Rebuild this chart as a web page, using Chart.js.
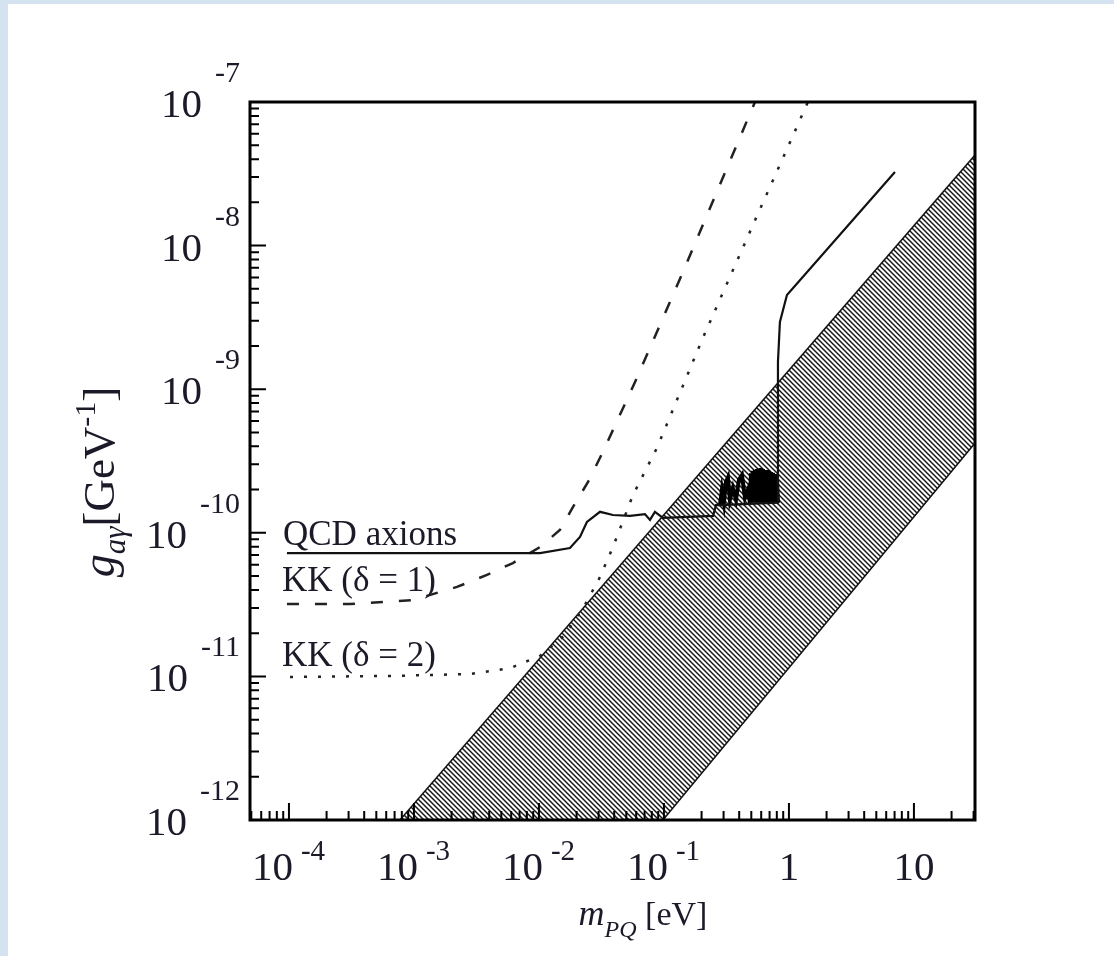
<!DOCTYPE html>
<html>
<head>
<meta charset="utf-8">
<script src="https://cdn.jsdelivr.net/npm/chart.js@4/dist/chart.umd.min.js"></script>
<style>
  body { margin: 0; background: #d5e3f1; width: 1114px; height: 956px; overflow: hidden; }
  #panel { position: absolute; left: 8px; top: 4px; width: 1106px; height: 952px; background: #fff; }
</style>
</head>
<body>
<div id="panel"><canvas id="grafica" width="1106" height="952"></canvas></div>
<script>
// Curva QCD (masa en eV, acople en GeV^-1)
const qcdMasa = [9.64e-5, 0.0102, 0.0177, 0.0213, 0.0242, 0.0308, 0.0391, 0.0535, 0.0705, 0.0773, 0.0847, 0.0982, 0.247, 0.261,
  0.281, 0.817, 0.817, 0.847, 0.964, 7.05];
const qcdAcople = [7.23e-11, 7.23e-11, 7.83e-11, 9.35e-11, 1.19e-10, 1.40e-10, 1.33e-10, 1.31e-10, 1.35e-10, 1.23e-10, 1.40e-10, 1.27e-10, 1.31e-10, 1.56e-10,
  1.56e-10, 1.62e-10, 1.55e-9, 2.94e-9, 4.53e-9, 3.26e-8];

// Zona de oscilaciones de la curva QCD
const oscMasa = [0.281, 0.291, 0.302, 0.313, 0.325, 0.337, 0.356, 0.377, 0.398, 0.421, 0.445, 0.470, 0.488, 0.497, 0.506, 0.515, 0.525,
  0.535, 0.545, 0.555, 0.565, 0.575, 0.586, 0.597, 0.608, 0.620, 0.631, 0.643, 0.655, 0.667, 0.679, 0.692, 0.705, 0.718, 0.731,
  0.745, 0.759, 0.773, 0.787, 0.802, 0.817];
const oscAcople = [1.56e-10, 1.99e-10, 1.62e-10, 2.26e-10, 2.43e-10, 1.70e-10, 2.05e-10, 1.70e-10, 2.33e-10, 2.52e-10, 1.75e-10, 1.99e-10, 1.62e-10, 2.60e-10, 1.65e-10, 2.70e-10, 1.62e-10,
  2.74e-10, 1.64e-10, 2.78e-10, 1.62e-10, 2.80e-10, 1.62e-10, 2.82e-10, 1.62e-10, 2.78e-10, 1.64e-10, 2.74e-10, 1.62e-10, 2.74e-10, 1.62e-10, 2.70e-10, 1.62e-10, 2.65e-10, 1.64e-10,
  2.62e-10, 1.62e-10, 2.56e-10, 1.62e-10, 2.40e-10, 1.62e-10];

// KK (delta = 1), discontinua
const kk1Masa = [9.64e-5, 3.08e-4, 9.82e-4, 2.21e-3, 3.84e-3, 6.19e-3, 0.0102, 0.0147, 0.0187, 0.0247, 0.0325, 0.0608, 0.142, 0.319, 0.535];
const kk1Acople = [3.19e-11, 3.19e-11, 3.40e-11, 4.20e-11, 5.09e-11, 6.16e-11, 7.96e-11, 1.045e-10, 1.51e-10, 2.26e-10, 3.66e-10, 1.20e-9, 6.55e-9, 3.47e-8, 1.0e-7];

// KK (delta = 2), punteada
const kk2Masa = [1.02e-4, 7.73e-4, 2.81e-3, 5.86e-3, 0.0102, 0.0161, 0.0233, 0.0308, 0.0391, 0.0565, 0.0879, 0.205, 0.515, 1.42];
const kk2Acople = [9.9e-12, 1.01e-11, 1.04e-11, 1.14e-11, 1.39e-11, 1.94e-11, 3.14e-11, 4.92e-11, 7.96e-11, 1.83e-10, 3.90e-10, 2.28e-9, 1.39e-8, 1.0e-7];

// Banda rayada
const bandaSupMasa = [7.73e-4, 30.8];
const bandaSupAcople = [1e-12, 4.27e-8];
const bandaInfMasa = [7.73e-4, 0.0982, 30.8];
const bandaInfAcople = [1e-12, 1e-12, 4.22e-10];

// Etiquetas de los ejes
const xTickValores = [1e-4, 1e-3, 1e-2, 1e-1, 1, 10];
const xTickBase = ['10', '10', '10', '10', '1', '10'];
const xTickExp = ['-4', '-3', '-2', '-1', '', ''];
const yTickValores = [1e-7, 1e-8, 1e-9, 1e-10, 1e-11, 1e-12];
const yTickExp = ['-7', '-8', '-9', '-10', '-11', '-12'];
const etiquetas = ['QCD axions', 'KK (\u03b4 = 1)', 'KK (\u03b4 = 2)'];

function puntos(xs, ys) {
    return xs.map((v, i) => ({x: v, y: ys[i]}));
}

// Trama de lineas diagonales para la banda
function crearTrama() {
    const c = document.createElement('canvas');
    c.width = 5;
    c.height = 5;
    const g = c.getContext('2d');
    g.strokeStyle = '#151515';
    g.lineWidth = 1.45;
    g.beginPath();
    g.moveTo(-1, -1); g.lineTo(6, 6);
    g.moveTo(-1, 4); g.lineTo(1, 6);
    g.moveTo(4, -1); g.lineTo(6, 1);
    g.stroke();
    return g.createPattern(c, 'repeat');
}

const SERIF = '"Liberation Serif", "Times New Roman", serif';
const TINTA = '#1c1a28';

// Marcas hacia dentro, marco, etiquetas y titulos
const decoracion = {
    id: 'decoracion',
    afterDatasetsDraw(chart) {
        const {ctx, chartArea: a} = chart;
        const x = chart.scales.x, y = chart.scales.y;
        ctx.save();
        ctx.strokeStyle = '#000';
        ctx.lineWidth = 2;
        ctx.beginPath();
        for (let e = -5; e <= 1; e++) {
            for (let k = 1; k <= 9; k++) {
                const v = k * Math.pow(10, e);
                if (v < x.min || v > x.max) continue;
                const px = x.getPixelForValue(v);
                ctx.moveTo(px, a.bottom);
                ctx.lineTo(px, a.bottom - (k === 1 ? 17 : 9));
            }
        }
        for (let e = -12; e <= -8; e++) {
            for (let k = 1; k <= 9; k++) {
                const v = k * Math.pow(10, e);
                const py = y.getPixelForValue(v);
                ctx.moveTo(a.left, py);
                ctx.lineTo(a.left + (k === 1 ? 16 : 9), py);
            }
        }
        ctx.stroke();
        ctx.lineWidth = 3;
        ctx.strokeRect(a.left, a.top, a.right - a.left, a.bottom - a.top);

        ctx.fillStyle = TINTA;
        ctx.textBaseline = 'alphabetic';
        // eje y
        yTickValores.forEach((v, i) => {
            const py = y.getPixelForValue(v);
            ctx.font = '30px ' + SERIF;
            ctx.textAlign = 'right';
            const expRight = a.left - 10;
            ctx.fillText(yTickExp[i], expRight, py - 20);
            const w = ctx.measureText(yTickExp[i]).width;
            ctx.font = '41px ' + SERIF;
            ctx.fillText('10', expRight - w - 13, py + 15);
        });
        // eje x
        xTickValores.forEach((v, i) => {
            const px = x.getPixelForValue(v);
            ctx.font = '41px ' + SERIF;
            if (xTickExp[i]) {
                ctx.textAlign = 'right';
                ctx.fillText(xTickBase[i], px + 4, a.bottom + 60);
                ctx.font = '29px ' + SERIF;
                ctx.textAlign = 'left';
                ctx.fillText(xTickExp[i], px + 12, a.bottom + 40);
            } else {
                ctx.textAlign = 'center';
                ctx.fillText(xTickBase[i], px, a.bottom + 60);
            }
        });

        // etiquetas de las curvas
        ctx.font = '35px ' + SERIF;
        ctx.textAlign = 'left';
        ctx.fillText(etiquetas[0], a.left + 33, a.top + 443);
        ctx.fillText(etiquetas[1], a.left + 32, a.top + 489);
        ctx.fillText(etiquetas[2], a.left + 32, a.top + 564);

        // titulo eje x: m_PQ [eV]
        const partesX = [
            {t: 'm', f: 'italic 36px ' + SERIF, dy: 0},
            {t: 'PQ', f: 'italic 24px ' + SERIF, dy: 12},
            {t: ' [eV]', f: '34px ' + SERIF, dy: 0}
        ];
        dibujarPartes(ctx, partesX, 635, a.bottom + 105);

        // titulo eje y: g_a\u03b3 [GeV^-1]
        const partesY = [
            {t: 'g', f: 'italic 46px ' + SERIF, dy: 0},
            {t: 'a\u03b3', f: 'italic 31px ' + SERIF, dy: 11},
            {t: '[GeV', f: '45px ' + SERIF, dy: 0},
            {t: '-1', f: '30px ' + SERIF, dy: -19},
            {t: ']', f: '45px ' + SERIF, dy: 0}
        ];
        ctx.translate(106, 478);
        ctx.rotate(-Math.PI / 2);
        dibujarPartes(ctx, partesY, 0, 0);
        ctx.restore();
    }
};

function dibujarPartes(ctx, partes, cx, base) {
    let total = 0;
    partes.forEach(p => { ctx.font = p.f; p.w = ctx.measureText(p.t).width; total += p.w; });
    let xx = cx - total / 2;
    ctx.textAlign = 'left';
    partes.forEach(p => {
        ctx.font = p.f;
        ctx.fillText(p.t, xx, base + p.dy);
        xx += p.w;
    });
}

const ctx = document.getElementById('grafica').getContext('2d');
const grafica = new Chart(ctx, {
    type: 'scatter',
    data: {
        datasets: [
            {
                label: 'QCD axions',
                data: puntos(qcdMasa, qcdAcople),
                showLine: true,
                borderColor: '#111',
                borderWidth: 2.2,
                fill: false
            },
            {
                label: 'QCD oscilaciones',
                data: puntos(oscMasa, oscAcople),
                showLine: true,
                borderColor: '#000',
                borderWidth: 4,
                fill: false
            },
            {
                label: 'KK (\u03b4 = 1)',
                data: puntos(kk1Masa, kk1Acople),
                showLine: true,
                borderColor: '#222',
                borderWidth: 2.5,
                borderDash: [12, 16],
                fill: false
            },
            {
                label: 'KK (\u03b4 = 2)',
                data: puntos(kk2Masa, kk2Acople),
                showLine: true,
                borderColor: '#222',
                borderWidth: 2.5,
                borderDash: [3, 11],
                fill: false
            },
            {
                label: 'banda sup',
                data: puntos(bandaSupMasa, bandaSupAcople),
                showLine: true,
                borderColor: '#111',
                borderWidth: 1.5,
                backgroundColor: crearTrama(),
                fill: '+1'
            },
            {
                label: 'banda inf',
                data: puntos(bandaInfMasa, bandaInfAcople),
                showLine: true,
                borderColor: '#111',
                borderWidth: 1.5,
                fill: false
            }
        ]
    },
    options: {
        responsive: false,
        animation: false,
        layout: {padding: {left: 242, top: 98, right: 139, bottom: 136}},
        elements: {point: {radius: 0}, line: {tension: 0}},
        plugins: {legend: {display: false}, tooltip: {enabled: false}},
        scales: {
            x: {type: 'logarithmic', min: 4.88e-5, max: 30.8, display: false},
            y: {type: 'logarithmic', min: 1e-12, max: 1e-7, display: false}
        }
    },
    plugins: [decoracion]
});
</script>
</body>
</html>
